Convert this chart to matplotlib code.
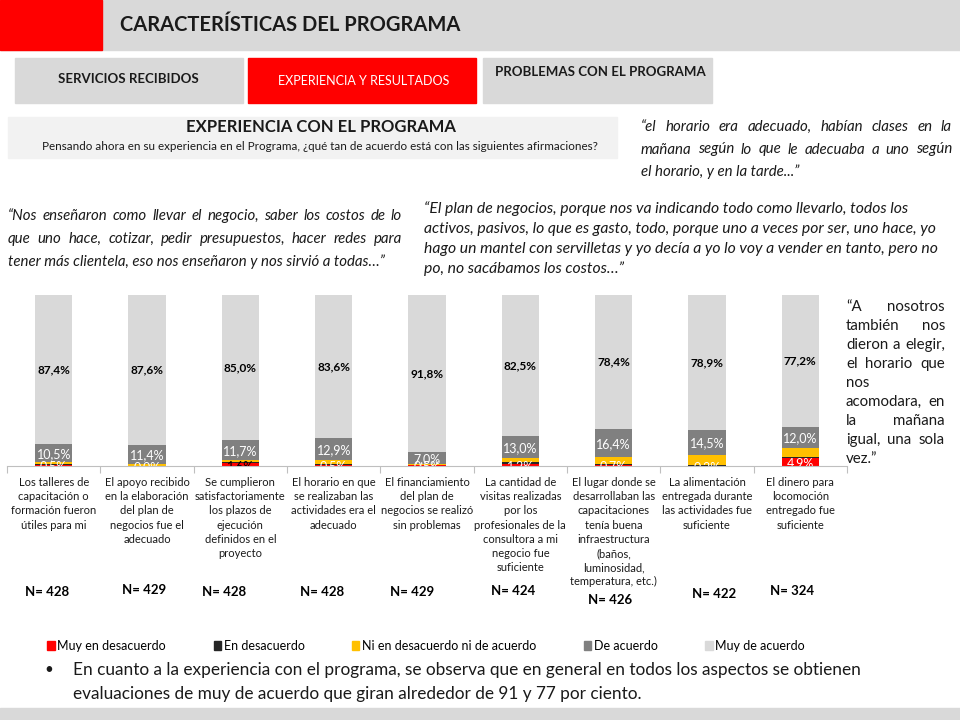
import numpy as np
import matplotlib
matplotlib.use("Agg")
import matplotlib.pyplot as plt
from matplotlib.patches import Rectangle, Patch

plt.rcParams['font.family'] = ['Lato', 'DejaVu Sans']

# ---- data ----
categories = [
    "Los talleres de\ncapacitación o\nformación fueron\nútiles para mi",
    "El apoyo recibido\nen la elaboración\ndel plan de\nnegocios fue el\nadecuado",
    "Se cumplieron\nsatisfactoriamente\nlos plazos de\nejecución\ndefinidos en el\nproyecto",
    "El horario en que\nse realizaban las\nactividades era el\nadecuado",
    "El financiamiento\ndel plan de\nnegocios se realizó\nsin problemas",
    "La cantidad de\nvisitas realizadas\npor los\nprofesionales de la\nconsultora a mi\nnegocio fue\nsuficiente",
    "El lugar donde se\ndesarrollaban las\ncapacitaciones\ntenía buena\ninfraestructura\n(baños,\nluminosidad,\ntemperatura, etc.)",
    "La alimentación\nentregada durante\nlas actividades fue\nsuficiente",
    "El dinero para\nlocomoción\nentregado fue\nsuficiente",
]
muy_desacuerdo = [0.5, 0.0, 1.6, 0.5, 0.5, 1.2, 0.7, 0.2, 4.9]
en_desacuerdo = [0.7, 0.0, 0.7, 0.9, 0.2, 1.2, 0.5, 0.5, 0.4]
ni_ni = [0.9, 1.0, 1.0, 2.1, 0.5, 2.1, 4.0, 5.9, 5.5]
de_acuerdo = [10.5, 11.4, 11.7, 12.9, 7.0, 13.0, 16.4, 14.5, 12.0]
muy_acuerdo = [87.4, 87.6, 85.0, 83.6, 91.8, 82.5, 78.4, 78.9, 77.2]
n_values = [428, 429, 428, 428, 429, 424, 426, 422, 324]

series_names = ["Muy en desacuerdo", "En desacuerdo",
                "Ni en desacuerdo ni de acuerdo", "De acuerdo", "Muy de acuerdo"]
series_colors = ["#FF0000", "#262626", "#FFC000", "#808080", "#D9D9D9"]

W, H = 960, 720
fig = plt.figure(figsize=(9.6, 7.2), dpi=100)


def px(x):
    return x / W


def py(y):
    return 1 - y / H


def box(x0, y0, x1, y1, color):
    fig.patches.append(Rectangle((px(x0), py(y1)), px(x1 - x0), (y1 - y0) / H,
                                 transform=fig.transFigure, color=color, zorder=0))


def justified(lines, x0, x1, y0, dy, **kw):
    # word by word placement, last line left aligned
    renderer = fig.canvas.get_renderer()
    for i, line in enumerate(lines):
        y = py(y0 + i * dy)
        words = line.split()
        if i == len(lines) - 1 or len(words) == 1:
            fig.text(px(x0), y, line, va='center', ha='left', **kw)
            continue
        texts = [fig.text(0, y, w, va='center', ha='left', **kw) for w in words]
        widths = [t.get_window_extent(renderer).width for t in texts]
        gap = (x1 - x0 - sum(widths)) / (len(words) - 1)
        x = x0
        for t, w in zip(texts, widths):
            t.set_x(px(x))
            x += w + gap


# ---- slide background ----
box(0, 0, 960, 50, "#D9D9D9")
box(0, 0, 102, 50, "#FF0000")
fig.text(px(120), py(25), "CARACTERÍSTICAS DEL PROGRAMA", fontsize=14.5,
         fontweight='bold', va='center', color='#1a1a1a')

box(15, 58, 243, 103, "#D9D9D9")
box(248, 58, 476, 103, "#FF0000")
box(483, 58, 712, 103, "#D9D9D9")
fig.text(px(128), py(79), "SERVICIOS RECIBIDOS", fontsize=9.5, fontweight='bold',
         ha='center', va='center', color='#1a1a1a')
fig.text(px(364), py(81), "EXPERIENCIA Y RESULTADOS", fontsize=9, ha='center',
         va='center', color='white')
fig.text(px(600), py(72), "PROBLEMAS CON EL PROGRAMA", fontsize=9.5, fontweight='bold',
         ha='center', va='center', color='#1a1a1a')

box(8, 117, 617, 158, "#F2F2F2")
fig.text(px(321), py(127), "EXPERIENCIA CON EL PROGRAMA", fontsize=12, fontweight='bold',
         ha='center', va='center', color='#1a1a1a')
fig.text(px(320), py(146), "Pensando ahora en su experiencia en el Programa, ¿qué tan de acuerdo "
         "está con las siguientes afirmaciones?", fontsize=8.4, ha='center', va='center',
         color='#1a1a1a')

# ---- quotes ----
qkw = dict(fontsize=10.8, style='italic', color='#1a1a1a')
justified(["“el horario era adecuado, habían clases en la",
           "mañana según lo que le adecuaba a uno según",
           "el horario, y en la tarde...”"], 641, 952, 127, 22.5, **qkw)
justified(["“Nos enseñaron como llevar el negocio, saber los costos de lo",
           "que uno hace, cotizar, pedir presupuestos, hacer redes para",
           "tener más clientela, eso nos enseñaron y nos sirvió a todas…”"],
          8, 402, 216, 23, **qkw)
for i, line in enumerate(["“El plan de negocios, porque nos va indicando todo como llevarlo, todos los",
                          "activos, pasivos, lo que es gasto, todo, porque uno a veces por ser, uno hace, yo",
                          "hago un mantel con servilletas y yo decía a yo lo voy a vender en tanto, pero no",
                          "po, no sacábamos los costos…”"]):
    fig.text(px(424), py(209 + i * 20), line, va='center', ha='left',
             fontsize=11.3, style='italic', color='#1a1a1a')
justified(["“A nosotros", "también nos", "dieron a elegir,", "el horario que", "nos",
           "acomodara, en", "la mañana", "igual, una sola", "vez.”"],
          846, 945, 307, 19, fontsize=10.8, color='#1a1a1a')

# ---- chart ----
ax = fig.add_axes([px(7), py(466), px(840), 171 / H])
x = np.arange(len(categories))
series = [muy_desacuerdo, en_desacuerdo, ni_ni, de_acuerdo, muy_acuerdo]
bottom = np.zeros(len(categories))
for vals, name, col in zip(series, series_names, series_colors):
    ax.bar(x, vals, 0.4, bottom=bottom, color=col, label=name)
    bottom += np.array(vals)

fmt = lambda v: f"{v:.1f}%".replace(".", ",")
base_da = np.array(muy_desacuerdo) + np.array(en_desacuerdo) + np.array(ni_ni)
for i in range(len(categories)):
    ax.text(x[i], base_da[i] + de_acuerdo[i] + muy_acuerdo[i] / 2, fmt(muy_acuerdo[i]),
            ha='center', va='center', fontsize=8.5, fontweight='bold', color='black')
    ax.text(x[i], base_da[i] + de_acuerdo[i] / 2 - 0.5, fmt(de_acuerdo[i]),
            ha='center', va='center', fontsize=9, color='white')
    small_col = 'black' if i == 2 else 'white'
    ax.text(x[i], muy_desacuerdo[i] / 2 - 0.6, fmt(muy_desacuerdo[i]), ha='center',
            va='center', fontsize=9, color=small_col, clip_on=True)

ax.set_xlim(-0.5, len(categories) - 0.5)
ax.set_ylim(0, 100)
for s in ['top', 'left', 'right']:
    ax.spines[s].set_visible(False)
ax.spines['bottom'].set_color('#BFBFBF')
ax.set_yticks([])
ax.set_xticks(np.arange(-0.5, len(categories)), labels=[])
ax.tick_params(axis='x', length=5, color='#BFBFBF')
ax.patch.set_alpha(0)

for i, lab in enumerate(categories):
    ax.annotate(lab, (x[i], 0), xytext=(0, -8), textcoords='offset points',
                ha='center', va='top', fontsize=8, linespacing=1.35, color='#1a1a1a',
                annotation_clip=False)

n_dx = [-0.07, -0.03, -0.17, -0.12, -0.16, -0.08, -0.04, 0.08, -0.09]
n_y = [592, 590, 592, 592, 592, 591, 600, 594, 591]
for i, n in enumerate(n_values):
    fig.text(px(7 + (x[i] + 0.5 + n_dx[i]) * 840 / 9), py(n_y[i]), f"N= {n}",
             ha='center', va='center', fontsize=9.5, fontweight='bold', color='black')

handles = [Patch(color=c, label=n) for c, n in zip(series_colors, series_names)]
fig.legend(handles=handles, loc='center', bbox_to_anchor=(px(426), py(646)), ncol=5,
           frameon=False, fontsize=9.0, handlelength=0.6, handleheight=0.8,
           handletextpad=0.2, columnspacing=3.8)

# ---- bullet ----
fig.text(px(44), py(670), "•", fontsize=11, va='center', color='#1a1a1a')
fig.text(px(73), py(670), "En cuanto a la experiencia con el programa, se observa que en general en "
         "todos los aspectos se obtienen", fontsize=12.4, va='center', color='#1a1a1a')
fig.text(px(73), py(694), "evaluaciones de muy de acuerdo que giran alrededor de 91 y 77 por ciento.",
         fontsize=12.4, va='center', color='#1a1a1a')
box(0, 708, 960, 720, "#D9D9D9")

fig.savefig("out.png", dpi=100)
